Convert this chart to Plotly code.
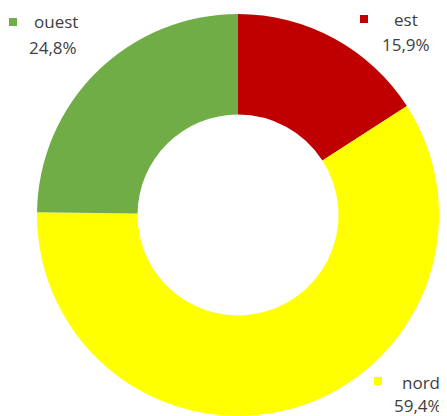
import plotly.graph_objects as go

# Répartition par secteur (%)
labels = ["est", "nord", "ouest"]
values = [15.9, 59.4, 24.8]
value_text = ["15,9%", "59,4%", "24,8%"]
colors = ["#C00000", "#FFFF00", "#70AD47"]

# la page ajoute une marge de 8 px autour du graphique
OFF = 8
W, H = 447 - OFF, 416 - OFF

fig = go.Figure(go.Pie(
    labels=labels,
    values=values,
    hole=0.5,
    sort=False,
    direction="clockwise",
    rotation=0,
    marker=dict(colors=colors, line=dict(width=0)),
    textinfo="none",
    hoverinfo="label+percent",
    domain=dict(x=[(37 - OFF) / W, (439 - OFF) / W], y=[0, 402 / H]),
    showlegend=False,
))

font = dict(family="Open Sans, Noto Sans, sans-serif", size=17, color="#404040")

# libellés : (carré x, carré y, nom x, nom y, valeur x, valeur y) en pixels de la page
label_pos = {
    "est": (364, 19, 392, 19, 380, 44),
    "nord": (378, 381, 400, 382, 392, 405),
    "ouest": (13, 22, 32, 22, 27, 47),
}


def px(x):
    return (x - OFF) / W


def py(y):
    return 1 - (y - OFF) / H


for name, txt, col in zip(labels, value_text, colors):
    sx, sy, nx, ny, vx, vy = label_pos[name]
    fig.add_shape(
        type="rect", xref="paper", yref="paper",
        x0=px(sx - 4), x1=px(sx + 4),
        y0=py(sy + 4), y1=py(sy - 4),
        fillcolor=col, line=dict(width=0),
    )
    fig.add_annotation(
        x=px(nx), y=py(ny), xref="paper", yref="paper",
        text=name, showarrow=False, xanchor="left", yanchor="middle", font=font,
    )
    fig.add_annotation(
        x=px(vx), y=py(vy), xref="paper", yref="paper",
        text=txt, showarrow=False, xanchor="left", yanchor="middle", font=font,
    )

fig.update_layout(
    width=W,
    height=H,
    margin=dict(l=0, r=0, t=0, b=0),
    paper_bgcolor="white",
    plot_bgcolor="white",
)

fig.write_html("out.html")
